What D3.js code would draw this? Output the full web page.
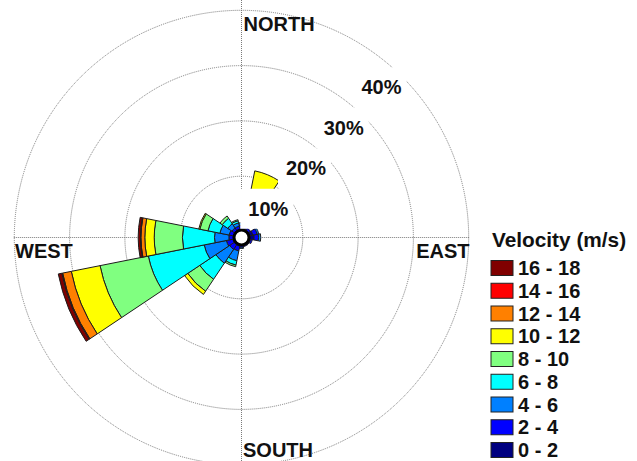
<!DOCTYPE html>
<html>
<head>
<meta charset="utf-8">
<script src="https://cdn.jsdelivr.net/npm/d3@7"></script>
<style>
  html, body { margin: 0; padding: 0; background: #fff; }
  svg { display: block; }
  text { font-family: "Liberation Sans", Arial, sans-serif; font-weight: bold; fill: #111; }
</style>
</head>
<body>
<svg id="chart" width="637" height="461"></svg>
<script>
// Compass sectors, clockwise from north
const directions = ["N","NNE","NE","ENE","E","ESE","SE","SSE","S","SSW","SW","WSW","W","WNW","NW","NNW"];

// Frequency (%) of each speed class per direction
const speed0to2   = [0.5, 0.6, 0.5, 1.0, 1.2, 0.6, 0.4, 0.4, 0.4, 0.5, 0.5, 0.5, 0.4, 0.4, 0.4, 0.4];
const speed2to4   = [0.6, 1.2, 0.4, 0.8, 0.8, 0.3, 0.2, 0.2, 0.3, 0.9, 1.0, 1.2, 0.8, 0.8, 0.6, 0.6];
const speed4to6   = [0.5, 2.0, 0.0, 0.3, 0.4, 0.0, 0.0, 0.0, 0.2, 1.8, 3.0, 4.1, 2.6, 1.7, 0.9, 0.6];
const speed6to8   = [0.0, 2.2, 0.0, 0.0, 0.0, 0.0, 0.0, 0.0, 0.0, 0.8, 3.5, 10.3, 5.8, 2.2, 1.2, 0.4];
const speed8to10  = [0.0, 1.8, 0.0, 0.0, 0.0, 0.0, 0.0, 0.0, 0.0, 0.3, 2.6, 8.9, 5.1, 1.5, 0.5, 0.2];
const speed10to12 = [0.0, 3.4, 0.0, 0.0, 0.0, 0.0, 0.0, 0.0, 0.0, 0.0, 0.7, 5.3, 1.7, 0.2, 0.0, 0.0];
const speed12to14 = [0.0, 0.0, 0.0, 0.0, 0.0, 0.0, 0.0, 0.0, 0.0, 0.0, 0.0, 1.6, 0.7, 0.0, 0.0, 0.0];
const speed14to16 = [0.0, 0.0, 0.0, 0.0, 0.0, 0.0, 0.0, 0.0, 0.0, 0.0, 0.0, 0.15, 0.1, 0.0, 0.0, 0.0];
const speed16to18 = [0.0, 0.0, 0.0, 0.0, 0.0, 0.0, 0.0, 0.0, 0.0, 0.0, 0.0, 0.65, 0.4, 0.0, 0.0, 0.0];

const speedLabels = ["0 - 2","2 - 4","4 - 6","6 - 8","8 - 10","10 - 12","12 - 14","14 - 16","16 - 18"];
const speedColors = ["#000080","#0000ff","#0080ff","#00ffff","#80ff80","#ffff00","#ff8000","#ff0000","#800000"];
const ringTicks = [10, 20, 30, 40];
const ringLabels = ["10%", "20%", "30%", "40%"];

const series = [speed0to2, speed2to4, speed4to6, speed6to8, speed8to10,
                speed10to12, speed12to14, speed14to16, speed16to18];

const svg = d3.select("#chart");
const cx = 241.5, cy = 237.5;
const hole = 6;
const r = d3.scaleLinear().domain([0, 40]).range([hole, 227.2]);
const sectorWidth = 2 * Math.PI / directions.length;

const root = svg.append("g").attr("transform", `translate(${cx},${cy})`);

// Dotted grid: axis lines and percentage rings
const grid = root.append("g")
  .attr("fill", "none").attr("stroke", "#7a7a7a")
  .attr("stroke-width", 1).attr("stroke-dasharray", "1,1");
grid.append("line").attr("x1", 0).attr("x2", 0).attr("y1", -cy).attr("y2", 461 - cy);
grid.append("line").attr("x1", -r(40) - 0.5).attr("x2", r(40) + 0.5).attr("y1", 0).attr("y2", 0);
grid.selectAll("circle.ring").data(ringTicks).join("circle")
  .attr("class", "ring").attr("r", d => r(d));

// Stacked sectors
const arc = d3.arc();
const bars = root.append("g");
directions.forEach((dir, i) => {
  let cum = 0;
  series.forEach((vals, k) => {
    const v = vals[i];
    if (v <= 0) return;
    const a0 = i * sectorWidth - sectorWidth / 2;
    bars.append("path")
      .attr("d", arc({
        innerRadius: r(cum), outerRadius: r(cum + v),
        startAngle: a0, endAngle: a0 + sectorWidth
      }))
      .attr("fill", speedColors[k])
      .attr("stroke", "#1c1c1c")
      .attr("stroke-width", 1)
      .attr("stroke-linejoin", "round");
    cum += v;
  });
});

// Centre hole
root.append("circle").attr("r", 7.5)
  .attr("fill", "#fff").attr("stroke", "#000").attr("stroke-width", 3);

// Ring labels on a white box along the north-east diagonal
const labelAngle = 47 * Math.PI / 180;
const ringLab = root.append("g");
ringTicks.forEach((t, i) => {
  const rad = r(t) - 22;
  const x = rad * Math.cos(labelAngle), y = -rad * Math.sin(labelAngle);
  const g = ringLab.append("g").attr("transform", `translate(${x},${y})`);
  const txt = g.append("text").attr("text-anchor", "middle").attr("dy", "0.35em")
    .attr("font-size", 20).text(ringLabels[i]);
  const w = txt.node().getComputedTextLength();
  g.insert("rect", "text")
    .attr("x", -w / 2 - 8).attr("y", -20).attr("width", w + 13).attr("height", 40)
    .attr("fill", "#fff");
});

// Compass labels
svg.append("text").attr("x", 243.5).attr("y", 31).attr("font-size", 20).text("NORTH");
svg.append("text").attr("x", 15).attr("y", 258).attr("font-size", 20).text("WEST");
svg.append("text").attr("x", 469.5).attr("y", 258).attr("font-size", 20)
  .attr("text-anchor", "end").text("EAST");
svg.append("text").attr("x", 243).attr("y", 456.5).attr("font-size", 20).text("SOUTH");

// Legend, fastest class on top
const legend = svg.append("g");
legend.append("text").attr("x", 492).attr("y", 247).attr("font-size", 20.8).text("Velocity (m/s)");
const rows = d3.range(speedLabels.length).reverse();
rows.forEach((k, j) => {
  const yc = 268 + j * 22.75;
  legend.append("rect").attr("x", 491).attr("y", yc - 7.5).attr("width", 22).attr("height", 15)
    .attr("fill", speedColors[k]).attr("stroke", "#222").attr("stroke-width", 1);
  legend.append("text").attr("x", 518).attr("y", yc + 7).attr("font-size", 20).text(speedLabels[k]);
});
</script>
</body>
</html>
